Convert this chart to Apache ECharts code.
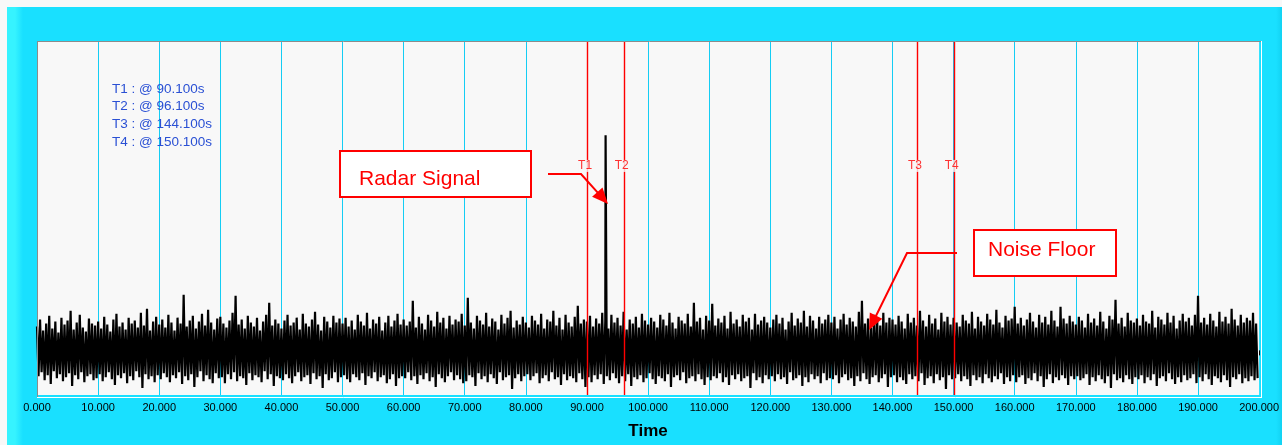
<!DOCTYPE html>
<html><head><meta charset="utf-8">
<script src="https://cdn.jsdelivr.net/npm/echarts@6/dist/echarts.min.js"></script>
<style>
html,body{margin:0;padding:0;background:#f8f8f8;}
#c{width:1282px;height:445px;
background:
 linear-gradient(to bottom,#f8f8f8 0,#f8f8f8 7px,rgba(0,0,0,0) 7px),
 linear-gradient(to right,#f8f8f8 0,#f8f8f8 7px,#36f3ff 7px,#36f3ff 15px,#19e0ff 23px,#19e0ff 1276px,#12d2f2 1282px);}
</style>
</head><body><div id="c"></div>
<script>
// ---- data ----
const timeMin = 0, timeMax = 200, timeStep = 10;
const sampleStep = 0.5;              // seconds between successive noise peaks
// upper noise peaks (amplitude units), one every 0.5 s starting at t = 0
const noiseHigh = [
24,31,20,27,35,22,29,18,33,26,30,40,21,28,36,23,19,32,27,25,
29,22,34,26,19,31,37,24,28,21,33,27,30,23,38,25,42,20,29,34,
26,31,23,36,28,20,33,27,56,24,30,35,22,29,37,25,41,28,21,32,
34,27,23,30,38,55,26,31,22,35,28,24,33,20,29,36,48,25,31,27,
22,30,36,25,28,33,21,37,27,24,31,39,26,20,34,29,23,35,28,32,
27,33,24,30,21,36,29,25,38,22,31,27,34,20,28,35,24,30,37,26,
31,25,29,50,23,34,27,21,36,30,24,39,28,33,22,35,26,31,29,37,
25,53,28,22,35,30,26,38,24,32,29,21,36,27,33,40,23,30,26,34,
28,23,35,30,26,37,22,31,29,40,25,33,21,36,28,24,34,45,27,31,
29,35,24,32,27,38,30,22,36,28,33,25,39,21,31,27,34,23,37,30,
26,33,29,23,36,31,25,38,28,22,34,30,27,37,24,48,29,33,21,35,
30,47,25,32,28,35,22,39,27,31,24,36,29,33,21,37,26,30,34,28,
23,31,36,27,33,21,29,38,25,32,28,40,24,35,30,22,34,27,31,36,
28,34,22,31,37,26,33,29,24,39,50,27,32,23,36,30,25,38,28,33,
31,26,35,29,22,37,28,33,25,40,30,24,36,27,32,21,38,29,34,26,
33,28,24,36,30,27,39,22,34,29,25,37,31,26,41,28,23,35,30,32,
44,27,33,25,31,38,29,23,36,28,34,26,40,30,24,44,32,27,35,29,
26,34,30,23,37,28,32,25,39,29,22,35,31,51,27,33,24,38,30,28,
32,25,36,29,27,40,23,34,31,26,38,28,35,22,30,37,29,33,25,36,
55,28,33,26,37,30,24,39,29,34,27,42,31,25,36,28,33,30,38,27];
// lower noise peaks, one every 0.5 s starting at t = 0.25
const noiseLow = [
-26,-22,-30,-25,-34,-21,-28,-24,-31,-27,-23,-36,-25,-29,-22,-32,-26,-24,-30,-28,
-24,-31,-27,-22,-29,-35,-25,-28,-23,-33,-26,-30,-21,-27,-38,-24,-29,-26,-32,-25,
-29,-23,-27,-32,-25,-28,-22,-34,-26,-30,-24,-37,-27,-21,-31,-25,-29,-33,-23,-28,
-27,-33,-24,-29,-22,-31,-26,-28,-35,-23,-30,-25,-27,-32,-21,-29,-24,-36,-26,-28,
-30,-24,-28,-33,-26,-22,-31,-27,-25,-34,-23,-29,-26,-38,-24,-30,-28,-22,-32,-27,
-25,-29,-32,-24,-27,-30,-23,-35,-26,-28,-22,-31,-27,-25,-33,-29,-24,-36,-28,-26,
-28,-22,-30,-26,-34,-25,-29,-23,-31,-27,-37,-24,-28,-32,-26,-22,-30,-25,-29,-33,
-31,-25,-27,-36,-23,-29,-26,-32,-24,-28,-34,-22,-30,-27,-25,-39,-28,-24,-31,-26,
-24,-30,-26,-23,-33,-28,-25,-31,-22,-29,-27,-35,-24,-30,-26,-28,-32,-23,-29,-37,
-27,-32,-25,-29,-24,-34,-26,-30,-23,-28,-33,-26,-31,-24,-36,-27,-29,-25,-32,-28,
-23,-29,-34,-26,-28,-31,-24,-37,-27,-25,-30,-22,-33,-28,-26,-31,-24,-29,-35,-27,
-30,-26,-28,-23,-32,-27,-35,-25,-29,-24,-31,-28,-26,-38,-23,-30,-27,-33,-25,-29,
-26,-31,-24,-29,-27,-34,-22,-30,-28,-25,-36,-27,-32,-24,-29,-26,-33,-23,-30,-28,
-29,-25,-33,-27,-24,-30,-28,-36,-26,-31,-23,-29,-34,-27,-25,-32,-28,-24,-37,-27,
-25,-32,-27,-30,-34,-24,-29,-26,-31,-23,-35,-28,-26,-33,-24,-30,-27,-39,-25,-29,
-28,-24,-31,-26,-29,-36,-25,-30,-27,-33,-24,-28,-32,-26,-29,-23,-34,-27,-31,-25,
-32,-27,-25,-34,-28,-30,-23,-31,-26,-37,-29,-24,-33,-27,-30,-25,-28,-35,-26,-29,
-26,-30,-28,-24,-35,-27,-31,-25,-29,-33,-26,-38,-24,-30,-28,-32,-25,-29,-34,-27,
-29,-25,-33,-27,-30,-24,-36,-28,-26,-31,-23,-29,-34,-27,-32,-25,-30,-28,-24,-33,
-27,-31,-24,-29,-35,-26,-28,-32,-25,-30,-37,-27,-29,-24,-33,-28,-31,-26,-30,-28];
// radar pulse samples [time s, amplitude]
const radarPulse = [[93.05, 217], [93.15, 93]];
const ampMin = -45, ampMax = 312;
const cursorNames = ['T1', 'T2', 'T3', 'T4'];
const cursorTimes = [90.1, 96.1, 144.1, 150.1];
const cursorLabelAmp = 186;
const readoutLines = cursorNames.map((n, i) => n + ' : @ ' + cursorTimes[i].toFixed(3) + 's');
const annotations = ['Radar Signal', 'Noise Floor'];

// ---- build series data ----
let pts = [];
for (let i = 0; i < noiseHigh.length; i++) {
  pts.push([i * sampleStep, noiseHigh[i]]);
  pts.push([i * sampleStep + sampleStep / 2, noiseLow[i]]);
}
pts = pts.concat(radarPulse).sort((a, b) => a[0] - b[0]);

const FONT = 'Arial, "Liberation Sans", sans-serif';
function arrowEls(path, len, half) {
  const n = path.length, tip = path[n - 1], prev = path[n - 2];
  const dx = tip[0] - prev[0], dy = tip[1] - prev[1], d = Math.hypot(dx, dy);
  const ux = dx / d, uy = dy / d;
  const bx = tip[0] - ux * len, by = tip[1] - uy * len;
  const lineEnd = path.slice(0, n - 1).concat([[bx + ux * 2, by + uy * 2]]);
  return [
    { type: 'polyline', z: 100, shape: { points: lineEnd }, style: { stroke: '#ff0000', lineWidth: 2, fill: null } },
    { type: 'polygon', z: 100, shape: { points: [tip, [bx - uy * half, by + ux * half], [bx + uy * half, by - ux * half]] }, style: { fill: '#ff0000' } }
  ];
}

const chart = echarts.init(document.getElementById('c'), null, { renderer: 'canvas' });
const graphics = [
  { type: 'line', z: 50, shape: { x1: 37, y1: 41.5, x2: 1262, y2: 41.5 }, style: { stroke: '#8c8c8c', lineWidth: 1 } },
  { type: 'line', z: 50, shape: { x1: 37.5, y1: 41, x2: 37.5, y2: 398 }, style: { stroke: '#8c8c8c', lineWidth: 1 } },
  { type: 'line', z: 50, shape: { x1: 1261.5, y1: 41, x2: 1261.5, y2: 398 }, style: { stroke: '#ffffff', lineWidth: 1 } },
  { type: 'line', z: 50, shape: { x1: 37, y1: 397.5, x2: 1262, y2: 397.5 }, style: { stroke: '#ffffff', lineWidth: 1 } }
];
readoutLines.forEach((t, i) => graphics.push({
  type: 'text', z: 100, left: 112, top: 90 + i * 17.7 - 8,
  style: { text: t, fill: '#2a50d4', font: '13.5px ' + FONT }
}));
graphics.push(
  { type: 'rect', z: 100, shape: { x: 340, y: 151, width: 191, height: 46 }, style: { fill: '#ffffff', stroke: '#ff0000', lineWidth: 2 } },
  { type: 'text', z: 101, x: 359, y: 179, style: { text: annotations[0], fill: '#ff0000', font: '21px ' + FONT, verticalAlign: 'middle' } },
  { type: 'rect', z: 100, shape: { x: 974, y: 230, width: 142, height: 46 }, style: { fill: '#ffffff', stroke: '#ff0000', lineWidth: 2 } },
  { type: 'text', z: 101, x: 988, y: 250, style: { text: annotations[1], fill: '#ff0000', font: '21px ' + FONT, verticalAlign: 'middle' } }
);
graphics.push(...arrowEls([[548, 174], [581, 174], [608, 204]], 16, 7));
graphics.push(...arrowEls([[957, 253], [907, 253], [869, 330]], 16, 7));

chart.setOption({
  animation: false,
  backgroundColor: 'transparent',
  grid: { left: 37, top: 41, right: 21, bottom: 47, show: true, backgroundColor: '#f8f8f8', borderWidth: 0 },
  xAxis: {
    type: 'value', min: timeMin, max: timeMax, interval: timeStep, offset: 2,
    axisLine: { show: false },
    axisTick: { show: true, length: 5, lineStyle: { color: '#000', width: 1 } },
    axisLabel: { margin: 5, color: '#000', fontSize: 11, fontFamily: FONT, formatter: v => v.toFixed(3) },
    splitLine: { show: true, showMinLine: false, showMaxLine: false, lineStyle: { color: '#14cdf4', width: 1 } },
    name: 'Time', nameLocation: 'middle', nameGap: 26,
    nameTextStyle: { fontWeight: 'bold', fontSize: 17, color: '#000', fontFamily: FONT }
  },
  yAxis: { type: 'value', min: ampMin, max: ampMax, show: false, splitLine: { show: false } },
  series: [
    {
      type: 'line', data: pts, symbol: 'none', showSymbol: false, sampling: null,
      lineStyle: { color: '#000000', width: 2.2 }, z: 2, silent: true
    },
    {
      type: 'scatter', z: 5, silent: true,
      data: cursorTimes.map(t => [t, cursorLabelAmp]),
      symbolSize: 1, itemStyle: { color: 'rgba(0,0,0,0)' },
      label: {
        show: true, position: 'inside', formatter: p => cursorNames[p.dataIndex],
        color: '#ff0000', fontSize: 12, fontFamily: FONT, backgroundColor: '#f8f8f8', offset: [-2.5, 0]
      },
      markLine: {
        silent: true, symbol: ['none', 'none'], animation: false,
        lineStyle: { color: '#ff0000', width: 1.4, type: 'solid' },
        label: { show: false },
        data: cursorTimes.map(t => ({ xAxis: t }))
      }
    }
  ],
  graphic: graphics
});
</script>
</body></html>
